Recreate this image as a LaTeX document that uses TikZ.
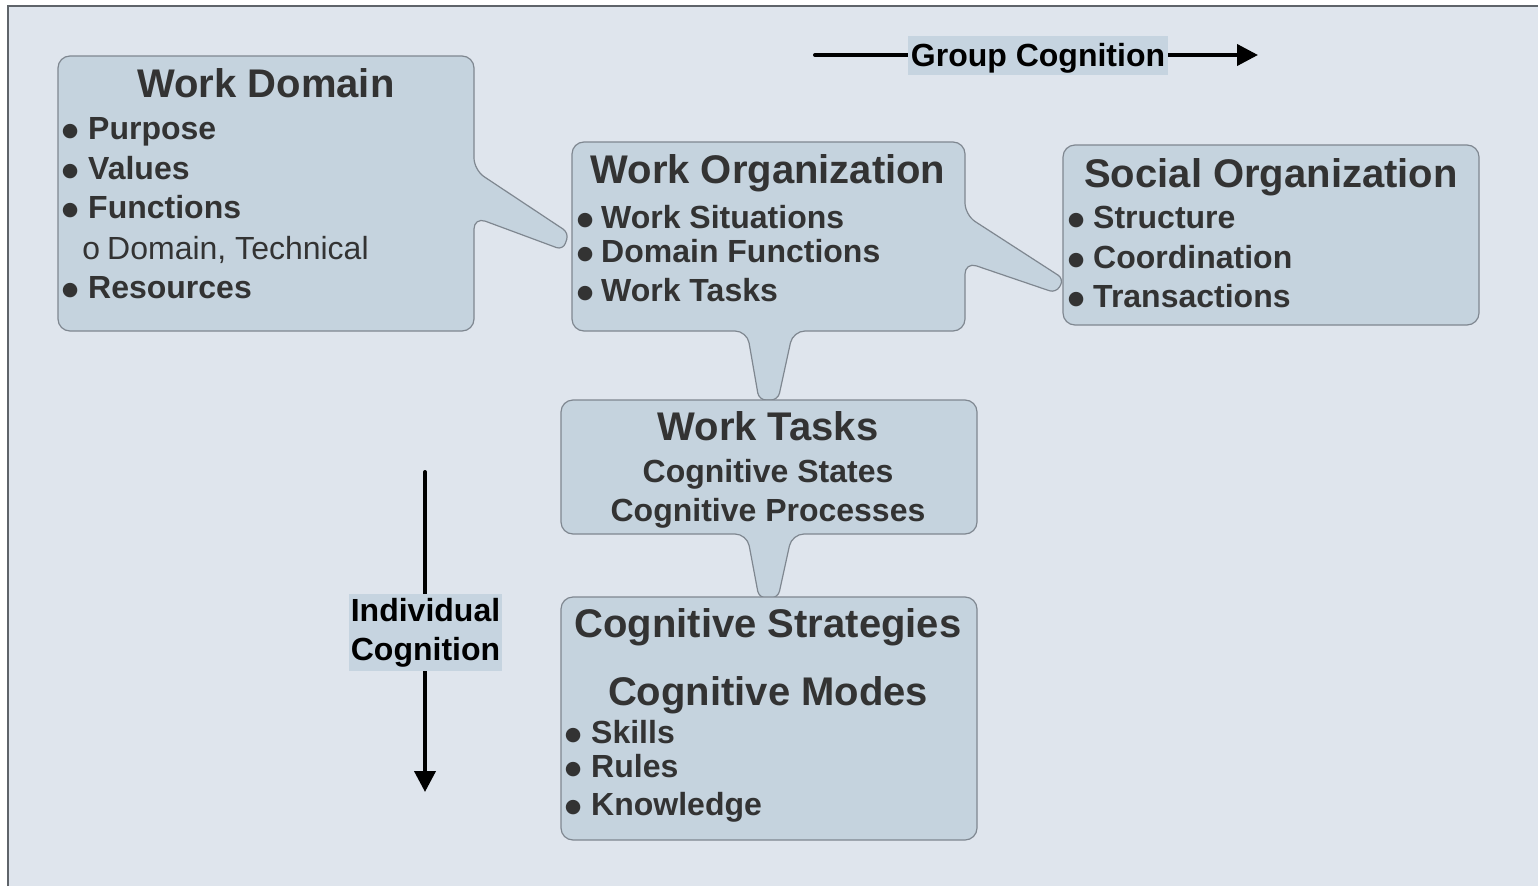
\documentclass[tikz,border=0pt]{standalone}
\usepackage{fontspec}
\setmainfont{Liberation Sans}
\newfontfamily\circfont{Liberation Mono}
\newfontfamily\symfont{DejaVu Sans}
\usetikzlibrary{arrows.meta}
\definecolor{bgc}{HTML}{DFE5ED}
\definecolor{boxfill}{HTML}{C5D3DE}
\definecolor{boxline}{HTML}{7F8790}
\definecolor{txt}{HTML}{333333}
\definecolor{framec}{HTML}{5F646A}
\definecolor{labfill}{HTML}{C6D4E0}
\newcommand{\mybul}[1]{\makebox[#1][c]{\smash{\raisebox{2.5pt}{\fontsize{19}{19}\symfont ●}}}}
\newcommand{\mycirc}[1]{\makebox[#1][c]{\circfont o}}
\begin{document}
\begin{tikzpicture}[x=1pt,y=-1pt,
  callout/.style={fill=boxfill,draw=boxline,line width=1.2pt,rounded corners=12pt},
  ttl/.style={inner sep=0pt,anchor=base,text=txt,font=\fontsize{40}{48}\selectfont\bfseries},
  sub/.style={inner sep=0pt,anchor=base,text=txt,font=\fontsize{32}{35}\selectfont\bfseries},
  itm/.style={inner sep=0pt,anchor=base west,text=txt,font=\fontsize{32}{35}\selectfont\bfseries},
  sitm/.style={inner sep=0pt,anchor=base west,text=txt,font=\fontsize{32}{35}\selectfont},
  lab/.style={fill=labfill,text=black,inner sep=0pt,font=\fontsize{32}{39}\selectfont\bfseries},
  bigarrow/.style={line width=4pt,line cap=round,-{Triangle[length=21pt,width=21pt]}}
]
\useasboundingbox (0,0) rectangle (1538,886);
\fill[bgc] (8,6) rectangle (1538,886);
\draw[framec,line width=2pt] (8,886) -- (8,6) -- (1538,6);

% Work Domain callout
\path[callout] (266,56) -- (474,56) -- (474,170) -- (520,200.5)
  [rounded corners=7pt] -- (569,233) -- (563,250) -- (518,233.3)
  [rounded corners=12pt] -- (474,217) -- (474,331) -- (58,331) -- (58,56) -- cycle;
% Work Organization callout
\path[callout] (768,142) -- (965,142) -- (965,215) -- (1014.5,247)
  [rounded corners=7pt] -- (1064,279) -- (1056,293) -- (1010.5,277.5)
  [rounded corners=12pt] -- (965,262) -- (965,331) -- (793,331) -- (785.5,365.5)
  [rounded corners=7pt] -- (778,400) -- (759,400) -- (753,365.5)
  [rounded corners=12pt] -- (747,331) -- (572,331) -- (572,142) -- cycle;
% Social Organization
\path[callout] (1063,145) rectangle (1479,325);
% Work Tasks callout
\path[callout] (769,400) -- (977,400) -- (977,534) -- (792,534) -- (785,566)
  [rounded corners=7pt] -- (778,598) -- (759,598) -- (753,566)
  [rounded corners=12pt] -- (747,534) -- (561,534) -- (561,400) -- cycle;
% Cognitive Strategies
\path[callout] (561,597) rectangle (977,840);

% Work Domain text
\node[ttl] (wdT) at (266,97) {Work Domain};
\node[itm] (wd1) at (52,139) {\mybul{36pt}Purpose};
\node[itm] (wd2) at (52,179) {\mybul{36pt}Values};
\node[itm] (wd3) at (52,218) {\mybul{36pt}Functions};
\node[sitm] (wd4) at (75,259) {\mycirc{32pt}Domain, Technical};
\node[itm] (wd5) at (52,298) {\mybul{36pt}Resources};

% Work Organization text
\node[ttl] (woT) at (768,183) {Work Organization};
\node[itm] (wo1) at (569,228) {\mybul{32pt}Work Situations};
\node[itm] (wo2) at (569,262) {\mybul{32pt}Domain Functions};
\node[itm] (wo3) at (569,301) {\mybul{32pt}Work Tasks};

% Social Organization text
\node[ttl] (soT) at (1271,187) {Social Organization};
\node[itm] (so1) at (1059,228) {\mybul{34pt}Structure};
\node[itm] (so2) at (1059,268) {\mybul{34pt}Coordination};
\node[itm] (so3) at (1059,307) {\mybul{34pt}Transactions};

% Work Tasks text
\node[ttl] (wtT) at (768,440) {Work Tasks};
\node[sub] (wt1) at (768,482) {Cognitive States};
\node[sub] (wt2) at (768,521) {Cognitive Processes};

% Cognitive Strategies text
\node[ttl] (csT) at (768,637) {Cognitive Strategies};
\node[ttl] (cmT) at (768,705) {Cognitive Modes};
\node[itm] (cs1) at (555,743) {\mybul{36pt}Skills};
\node[itm] (cs2) at (555,777) {\mybul{36pt}Rules};
\node[itm] (cs3) at (555,815) {\mybul{36pt}Knowledge};

% Group cognition arrow
\coordinate (gcs) at (815,55);
\coordinate (gce) at (1258,55);
\draw[bigarrow] (gcs) -- (gce);
\node[lab,minimum width=260pt,text height=30pt,text depth=9pt] (gc) at (1038,55.5) {Group Cognition};

% Individual cognition arrow
\coordinate (ics) at (425,472);
\coordinate (ice) at (425,792);
\draw[bigarrow] (ics) -- (ice);
\node[lab,align=center,minimum width=153pt,minimum height=77pt] (ic) at (425.5,632.5) {Individual\\Cognition};
\end{tikzpicture}
\end{document}
